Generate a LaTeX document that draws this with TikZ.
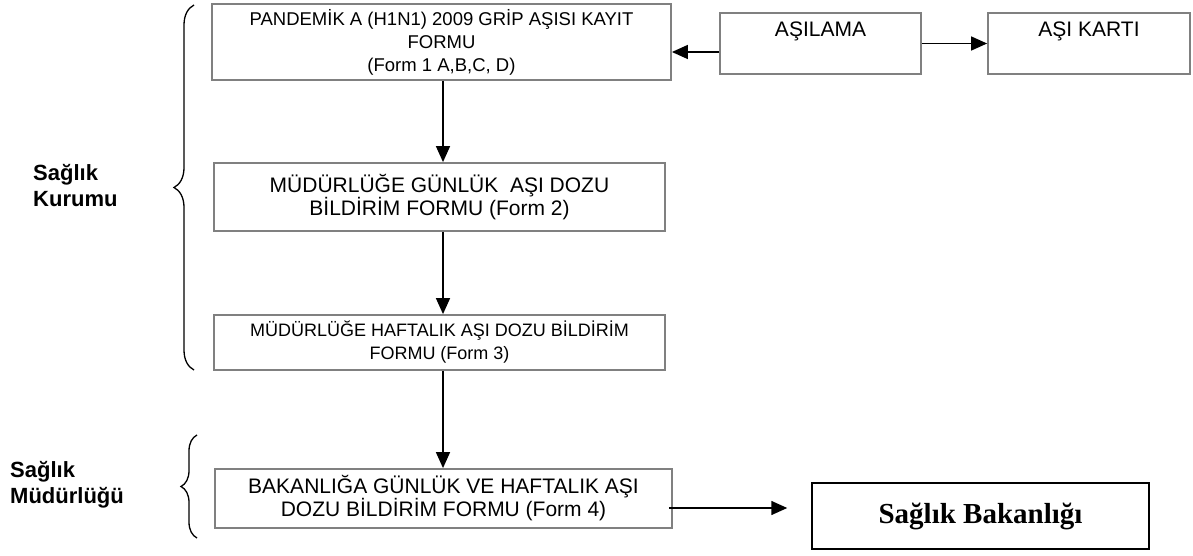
\documentclass[tikz,border=0pt]{standalone}
\usepackage{fontspec}
\setmainfont{Liberation Sans}
\newfontfamily\serifbold{Liberation Serif}
\usetikzlibrary{arrows.meta,decorations.pathreplacing}
\tikzset{
  formbox/.style={draw=gray, line width=1.8pt, align=center, inner sep=0pt},
  arr/.style={-{Triangle[length=16pt,width=14pt]}, line width=1.5pt},
  grpbrace/.style={decorate, decoration={brace, amplitude=#1}, line width=1.3pt},
  grplabel/.style={anchor=west, align=left, inner sep=0pt, font=\fontsize{22}{26}\selectfont\bfseries},
}
\begin{document}
\begin{tikzpicture}[x=1pt, y=-1pt]
\useasboundingbox (0,0) rectangle (1193,556);
% forms, top to bottom
\node[formbox, minimum width=459pt, minimum height=76pt, font=\fontsize{18.5}{23}\selectfont] (n1) at (441.5,42) {PANDEMİK A (H1N1) 2009 GRİP AŞISI KAYIT\\FORMU\\(Form 1 A,B,C, D)};
\node[formbox, minimum width=451pt, minimum height=68pt, font=\fontsize{21}{23}\selectfont] (n2) at (439.5,197) {MÜDÜRLÜĞE GÜNLÜK~ AŞI DOZU\\BİLDİRİM FORMU (Form 2)};
\node[formbox, minimum width=451pt, minimum height=55pt, font=\fontsize{18}{23}\selectfont] (n3) at (439.5,342.5) {MÜDÜRLÜĞE HAFTALIK AŞI DOZU BİLDİRİM\\FORMU (Form 3)};
\node[formbox, minimum width=457pt, minimum height=59pt, font=\fontsize{21}{23}\selectfont] (n4) at (443.5,498.5) {BAKANLIĞA GÜNLÜK VE HAFTALIK AŞI\\DOZU BİLDİRİM FORMU (Form 4)};
% top row
\node[formbox, minimum width=201pt, inner ysep=8pt, text height=16pt, text depth=29pt, font=\fontsize{21}{23}\selectfont] (asil) at (820.5,43.5) {AŞILAMA};
\node[formbox, minimum width=202pt, inner ysep=8pt, text height=16pt, text depth=29pt, font=\fontsize{21}{23}\selectfont] (kart) at (1089,43.5) {AŞI KARTI};
\node[draw, line width=1.5pt, minimum width=337pt, minimum height=66pt, font=\serifbold\bfseries\fontsize{29}{34}\selectfont] (bak) at (980.5,516) {Sağlık Bakanlığı};
% groups
\node[grplabel] (kurum) at (33,186) {Sağlık\\Kurumu};
\node[grplabel] (mudur) at (10,485) {Sağlık\\Müdürlüğü};
\draw[grpbrace=20pt] (194,370) -- (194,5);
\draw[grpbrace=16pt] (197,538) -- (197,435);
% arrows
\coordinate (ax) at (443,0);
\draw[arr] (n1.south -| ax) -- (n2.north -| ax);
\draw[arr] (n2.south -| ax) -- (n3.north -| ax);
\draw[arr] (n3.south -| ax) -- (n4.north -| ax);
\draw[arr] ([yshift=-8.5pt]asil.west) coordinate (p1) -- (p1 -| n1.east);
\draw[arr] (asil) -- (kart);
\draw[arr, shorten >=24pt] ([xshift=-4pt,yshift=-9.5pt]n4.east) coordinate (p2) -- (p2 -| bak.west);
\end{tikzpicture}
\end{document}
